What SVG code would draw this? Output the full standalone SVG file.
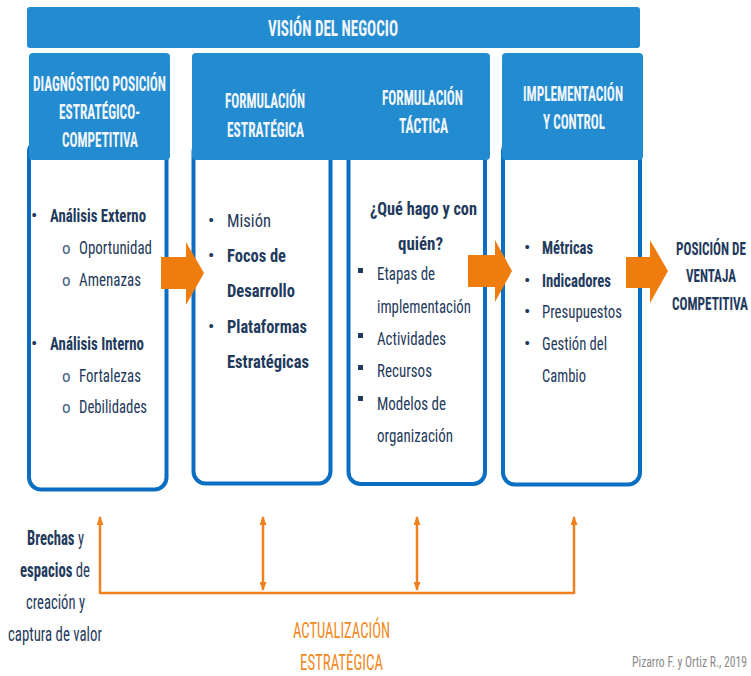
<svg xmlns="http://www.w3.org/2000/svg" width="751" height="676" viewBox="0 0 751 676">
<defs>
<style>
.hdr{fill:#238BD0}
.body{fill:#fff;stroke:#0A6FC2;stroke-width:4}
.ht{font-family:"Roboto Condensed","Liberation Sans Narrow",Roboto,"Liberation Sans",sans-serif;font-weight:bold;font-size:19.5px;fill:#F2F6FA}
.t{font-family:"Roboto Condensed","Liberation Sans Narrow",Roboto,"Liberation Sans",sans-serif;font-size:19px;fill:#1F3A5C}
.b{font-weight:bold}
.or{fill:#EE7D0E}
.ol{stroke:#F0811E;stroke-width:2.5;fill:none}
.ot{font-family:"Roboto Condensed","Liberation Sans Narrow",Roboto,"Liberation Sans",sans-serif;font-size:22.5px;fill:#F08A24}
.ct{font-family:"Roboto Condensed","Liberation Sans Narrow",Roboto,"Liberation Sans",sans-serif;font-size:14px;fill:#8A8A8A}
</style>
<marker id="ah" markerWidth="9" markerHeight="7" refX="8" refY="3.5" orient="auto-start-reverse" markerUnits="userSpaceOnUse">
<path d="M0,0 L9,3.5 L0,7 z" fill="#F0811E"/>
</marker>
</defs>

<g id="vision">
<rect class="hdr" x="27" y="7" width="613" height="41" rx="3"/>
<text class="ht" x="268" y="36" style="font-size:22px" textLength="130" lengthAdjust="spacingAndGlyphs">VISIÓN DEL NEGOCIO</text>
</g>

<g id="diagnostico">
<rect class="body" x="29" y="140" width="137.5" height="349.5" rx="12"/>
<rect class="hdr" x="29" y="53" width="141" height="107" rx="4"/>
<text class="ht" x="33" y="91" textLength="133" lengthAdjust="spacingAndGlyphs">DIAGNÓSTICO POSICIÓN</text>
<text class="ht" x="59" y="119" textLength="81" lengthAdjust="spacingAndGlyphs">ESTRATÉGICO-</text>
<text class="ht" x="62" y="147" textLength="76" lengthAdjust="spacingAndGlyphs">COMPETITIVA</text>
<text class="t" x="31" y="222">•</text>
<text class="t b" x="50" y="222" textLength="96" lengthAdjust="spacingAndGlyphs">Análisis Externo</text>
<text class="t" x="62" y="254" style="font-size:17px;fill:#4A6080">o</text>
<text class="t" x="79" y="254" textLength="73" lengthAdjust="spacingAndGlyphs">Oportunidad</text>
<text class="t" x="62" y="286" style="font-size:17px;fill:#4A6080">o</text>
<text class="t" x="79" y="286" textLength="62" lengthAdjust="spacingAndGlyphs">Amenazas</text>
<text class="t" x="31" y="350">•</text>
<text class="t b" x="50" y="350" textLength="94" lengthAdjust="spacingAndGlyphs">Análisis Interno</text>
<text class="t" x="62" y="382" style="font-size:17px;fill:#4A6080">o</text>
<text class="t" x="79" y="382" textLength="62" lengthAdjust="spacingAndGlyphs">Fortalezas</text>
<text class="t" x="62" y="413" style="font-size:17px;fill:#4A6080">o</text>
<text class="t" x="79" y="413" textLength="68" lengthAdjust="spacingAndGlyphs">Debilidades</text>
</g>

<g id="formulacion">
<rect class="body" x="193.5" y="140" width="137" height="343.5" rx="12"/>
<rect class="body" x="348.5" y="140" width="136.5" height="344" rx="12"/>
<rect class="hdr" x="192" y="53" width="298" height="107" rx="4"/>
<text class="ht" x="225" y="108" textLength="80" lengthAdjust="spacingAndGlyphs">FORMULACIÓN</text>
<text class="ht" x="227" y="137" textLength="77" lengthAdjust="spacingAndGlyphs">ESTRATÉGICA</text>
<text class="ht" x="382" y="105" textLength="81" lengthAdjust="spacingAndGlyphs">FORMULACIÓN</text>
<text class="ht" x="399" y="133" textLength="49" lengthAdjust="spacingAndGlyphs">TÁCTICA</text>
<text class="t" x="208" y="227">•</text>
<text class="t" x="227" y="227" textLength="44" lengthAdjust="spacingAndGlyphs">Misión</text>
<text class="t" x="208" y="262">•</text>
<text class="t b" x="227" y="262" textLength="59" lengthAdjust="spacingAndGlyphs">Focos de</text>
<text class="t b" x="227" y="297" textLength="68" lengthAdjust="spacingAndGlyphs">Desarrollo</text>
<text class="t" x="208" y="333">•</text>
<text class="t b" x="227" y="333" textLength="80" lengthAdjust="spacingAndGlyphs">Plataformas</text>
<text class="t b" x="227" y="368" textLength="82" lengthAdjust="spacingAndGlyphs">Estratégicas</text>
<text class="t b" x="370" y="215" textLength="107" lengthAdjust="spacingAndGlyphs">¿Qué hago y con</text>
<text class="t b" x="398" y="250" textLength="45" lengthAdjust="spacingAndGlyphs">quién?</text>
<rect x="358" y="268" width="5" height="5" fill="#1F3A5C"/>
<text class="t" x="377" y="280" textLength="58" lengthAdjust="spacingAndGlyphs">Etapas de</text>
<text class="t" x="377" y="313" textLength="94" lengthAdjust="spacingAndGlyphs">implementación</text>
<rect x="358" y="333" width="5" height="5" fill="#1F3A5C"/>
<text class="t" x="377" y="345" textLength="69" lengthAdjust="spacingAndGlyphs">Actividades</text>
<rect x="358" y="365" width="5" height="5" fill="#1F3A5C"/>
<text class="t" x="377" y="377" textLength="55" lengthAdjust="spacingAndGlyphs">Recursos</text>
<rect x="358" y="396" width="5" height="5" fill="#1F3A5C"/>
<text class="t" x="377" y="410" textLength="69" lengthAdjust="spacingAndGlyphs">Modelos de</text>
<text class="t" x="377" y="442" textLength="76" lengthAdjust="spacingAndGlyphs">organización</text>
</g>

<g id="implementacion">
<rect class="body" x="503" y="140" width="137" height="344.5" rx="12"/>
<rect class="hdr" x="502" y="53" width="141" height="107" rx="4"/>
<text class="ht" x="523" y="101" textLength="100" lengthAdjust="spacingAndGlyphs">IMPLEMENTACIÓN</text>
<text class="ht" x="543" y="129" textLength="62" lengthAdjust="spacingAndGlyphs">Y CONTROL</text>
<text class="t" x="524" y="254">•</text>
<text class="t b" x="542" y="254" textLength="51" lengthAdjust="spacingAndGlyphs">Métricas</text>
<text class="t" x="524" y="287">•</text>
<text class="t b" x="542" y="287" textLength="69" lengthAdjust="spacingAndGlyphs">Indicadores</text>
<text class="t" x="524" y="318">•</text>
<text class="t" x="542" y="318" textLength="80" lengthAdjust="spacingAndGlyphs">Presupuestos</text>
<text class="t" x="524" y="350">•</text>
<text class="t" x="542" y="350" textLength="65" lengthAdjust="spacingAndGlyphs">Gestión del</text>
<text class="t" x="542" y="382" textLength="44" lengthAdjust="spacingAndGlyphs">Cambio</text>
</g>

<g id="posicion">
<text class="t b" x="676" y="255" style="font-size:18px" textLength="70" lengthAdjust="spacingAndGlyphs">POSICIÓN DE</text>
<text class="t b" x="686" y="282" style="font-size:18px" textLength="50" lengthAdjust="spacingAndGlyphs">VENTAJA</text>
<text class="t b" x="672" y="310" style="font-size:18px" textLength="76" lengthAdjust="spacingAndGlyphs">COMPETITIVA</text>
</g>

<g id="brechas">
<text class="t" x="27" y="545" style="font-size:20px" textLength="57" lengthAdjust="spacingAndGlyphs"><tspan class="b">Brechas</tspan> y</text>
<text class="t" x="20" y="577" style="font-size:20px" textLength="70" lengthAdjust="spacingAndGlyphs"><tspan class="b">espacios</tspan> de</text>
<text class="t" x="26" y="609" style="font-size:20px" textLength="59" lengthAdjust="spacingAndGlyphs">creación y</text>
<text class="t" x="8" y="641" style="font-size:20px" textLength="94" lengthAdjust="spacingAndGlyphs">captura de valor</text>
</g>

<g id="actualizacion">
<text class="ot" x="293" y="638" textLength="97" lengthAdjust="spacingAndGlyphs">ACTUALIZACIÓN</text>
<text class="ot" x="300" y="670" textLength="83" lengthAdjust="spacingAndGlyphs">ESTRATÉGICA</text>
</g>

<g id="connectors">
<path class="or" d="M161,257 H186 V242 L204,273 L186,305 V289 H161 Z"/>
<path class="or" d="M468,255 H495 V240 L512,271 L495,302 V287 H468 Z"/>
<path class="or" d="M626,257 H650 V240 L668,271 L650,303 V288 H626 Z"/>
<path class="ol" d="M100,593 H574"/>
<line class="ol" x1="100" y1="594" x2="100" y2="517" marker-end="url(#ah)"/>
<line class="ol" x1="574" y1="594" x2="574" y2="517" marker-end="url(#ah)"/>
<line class="ol" x1="263" y1="590" x2="263" y2="517" marker-start="url(#ah)" marker-end="url(#ah)"/>
<line class="ol" x1="417" y1="590" x2="417" y2="517" marker-start="url(#ah)" marker-end="url(#ah)"/>
</g>

<text class="ct" x="632" y="667" textLength="115" lengthAdjust="spacingAndGlyphs">Pizarro F. y Ortiz R., 2019</text>
</svg>
